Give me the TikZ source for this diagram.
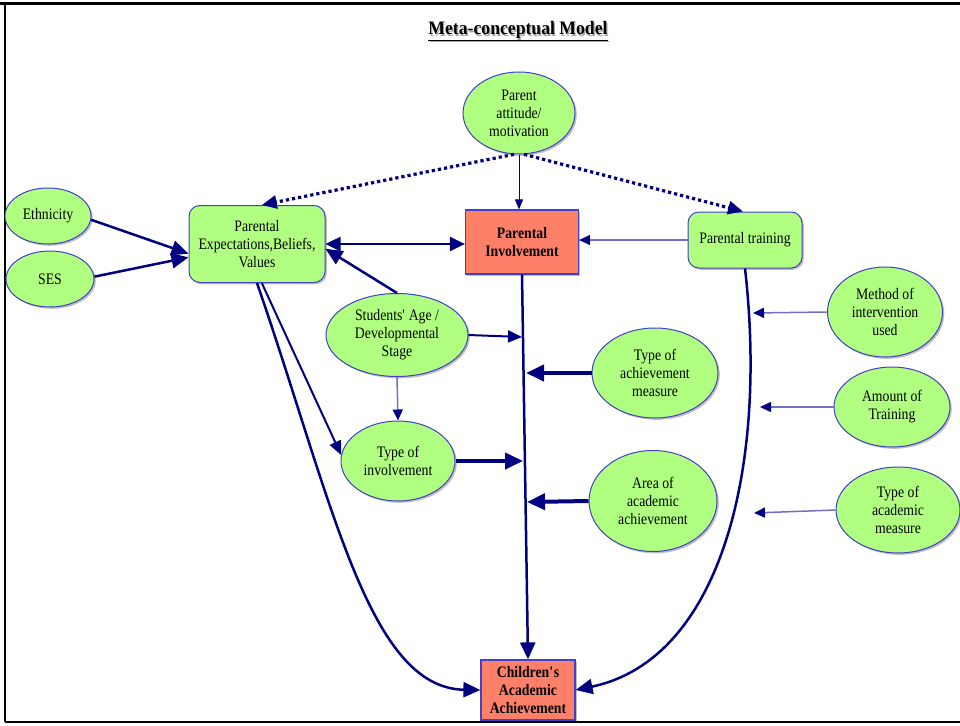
\documentclass[tikz,border=0pt]{standalone}
\usepackage{fontspec}
\setmainfont[FakeStretch=0.86]{Liberation Serif}
\newfontfamily\titlefont[FakeStretch=0.93]{Liberation Serif}
\usetikzlibrary{shapes.geometric,arrows.meta,shadows}

\definecolor{nodegreen}{RGB}{176,255,128}
\definecolor{nodeedge}{RGB}{64,64,200}
\definecolor{keyfill}{RGB}{255,128,104}
\definecolor{linknavy}{RGB}{0,0,128}
\definecolor{linkpale}{RGB}{112,112,192}

\tikzset{
  softshadow/.style={drop shadow={shadow xshift=1.8pt, shadow yshift=-1.8pt, opacity=0.25, fill=black}},
  oval/.style={ellipse, draw=nodeedge, line width=1pt, fill=nodegreen, align=center,
    inner sep=0pt, softshadow, font=\fontsize{16}{18}\selectfont},
  softbox/.style={rectangle, rounded corners=11pt, draw=nodeedge, line width=1pt, fill=nodegreen,
    align=center, inner sep=0pt, softshadow, font=\fontsize{16}{18}\selectfont},
  keybox/.style={rectangle, draw=nodeedge, line width=1.2pt, fill=keyfill, align=center,
    inner sep=0pt, softshadow, font=\bfseries\fontsize{16}{18}\selectfont},
  heavy/.style={draw=linknavy, line width=2.5pt, -{Triangle[length=17pt,width=15pt]}},
  bold link/.style={draw=linknavy, line width=4pt, -{Triangle[length=18pt,width=16pt]}},
  medium/.style={draw=linknavy, line width=2pt, -{Triangle[length=14pt,width=12pt]}},
  slim/.style={draw=linknavy, line width=1pt, -{Triangle[length=10pt,width=8pt]}},
  pale/.style={draw=linkpale, line width=1.5pt, -{Triangle[length=11pt,width=10pt,color=linknavy]}},
  dotlink/.style={draw=linknavy, line width=3.2pt, dash pattern=on 3.2pt off 3pt,
    -{Triangle[length=15pt,width=13pt]}},
  twoway/.style={draw=linknavy, line width=2.5pt,
    {Triangle[length=15pt,width=14pt]}-{Triangle[length=15pt,width=14pt]}},
}

\begin{document}
\begin{tikzpicture}[x=1pt,y=-1pt]
\useasboundingbox (0,0) rectangle (960,725);

% frame lines
\draw[line width=2.6pt, black] (0,3.3) -- (960,3.3);
\draw[line width=2.6pt, black] (5,3.3) -- (5,722);
\draw[line width=2.6pt, black] (5,722) -- (960,722);

% title with a soft grey echo
\node[anchor=base, font=\titlefont\bfseries\fontsize{19}{22}\selectfont, text=black!35, inner sep=0pt] at (519.2,36.2) {\underline{Meta-conceptual Model}};
\node[anchor=base, font=\titlefont\bfseries\fontsize{19}{22}\selectfont, inner sep=0pt] (title) at (518,35) {\underline{Meta-conceptual Model}};

% nodes
\node[oval, minimum width=112pt, minimum height=82pt] (patt) at (519,113) {Parent\\attitude/\\motivation};
\node[oval, minimum width=86pt, minimum height=56pt] (eth) at (48,216) {Ethnicity};
\node[oval, minimum width=88pt, minimum height=56pt] (ses) at (50,279) {SES};
\node[softbox, minimum width=136pt, minimum height=77pt] (pexp) at (257,244) {Parental\\Expectations,Beliefs,\\Values};
\node[keybox, minimum width=113pt, minimum height=64pt] (pinv) at (522,242) {Parental\\Involvement};
\node[softbox, minimum width=114pt, minimum height=56pt] (ptrain) at (745,240) {\raisebox{-2pt}{Parental training}};
\node[oval, minimum width=142pt, minimum height=83pt] (age) at (397,335) {Students\textquotesingle\ Age /\\Developmental\\Stage};
\node[oval, minimum width=114pt, minimum height=80pt] (tinv) at (398,461) {Type of\\involvement};
\node[oval, minimum width=126pt, minimum height=90pt] (tach) at (655,373) {Type of\\achievement\\measure};
\node[oval, minimum width=128pt, minimum height=101pt] (area) at (653,501) {Area of\\academic\\achievement};
\node[oval, minimum width=115pt, minimum height=90pt] (meth) at (885,312) {Method of\\intervention\\used};
\node[oval, minimum width=116pt, minimum height=80pt] (amt) at (892,407) {Amount of\\Training};
\node[oval, minimum width=124pt, minimum height=86pt] (tam) at (898,510) {Type of\\academic\\measure};
\node[keybox, minimum width=94pt, minimum height=60pt] (cach) at (528,690) {Children\textquotesingle s\\Academic\\Achievement};

% points where side links meet the long connectors
\coordinate (onAge)  at (522,337);
\coordinate (onTinv) at (523,461);
\coordinate (onTach) at (526,373);
\coordinate (onArea) at (527,502);
\coordinate (onMeth) at (753,313);
\coordinate (onAmt)  at (760,407);
\coordinate (onTam)  at (754,513);

% parent attitude links
\draw[dotlink] (patt.-97) -- (pexp.83);
\draw[dotlink] (patt.-83) -- (ptrain.94);
\draw[slim] (patt.south) -- (patt.south |- pinv.north);

% background factors
\draw[heavy] (eth.-5) -- (pexp.-172);
\draw[heavy] (ses.3) -- (pexp.-169);

% expectations and involvement
\draw[twoway] (pexp.east) -- (pexp.east -| pinv.west);
\draw[pale] (ptrain.west) -- (ptrain.west -| pinv.east);
\draw[heavy] (age.north) -- (pexp.-4);
\draw[medium] (age.east) -- (onAge);
\draw[pale] (age.south) -- (tinv.north);
\draw[medium] (pexp.-83) -- (tinv.174);

% paths to achievement
\draw[heavy] (pexp.south) .. controls (332,500) and (368,688) .. (cach.west);
\draw[heavy] (pinv.south) -- (cach.north);
\draw[heavy] (ptrain.south) .. controls (768,470) and (720,660) .. (cach.east);

% moderators on the involvement path
\draw[bold link] (tinv.east) -- (onTinv);
\draw[bold link] (tach.west) -- (onTach);
\draw[bold link] (area.west) -- (onArea);

% moderators on the training path
\draw[pale] (meth.west) -- (onMeth);
\draw[pale] (amt.west) -- (onAmt);
\draw[pale] (tam.west) -- (onTam);
\end{tikzpicture}
\end{document}
